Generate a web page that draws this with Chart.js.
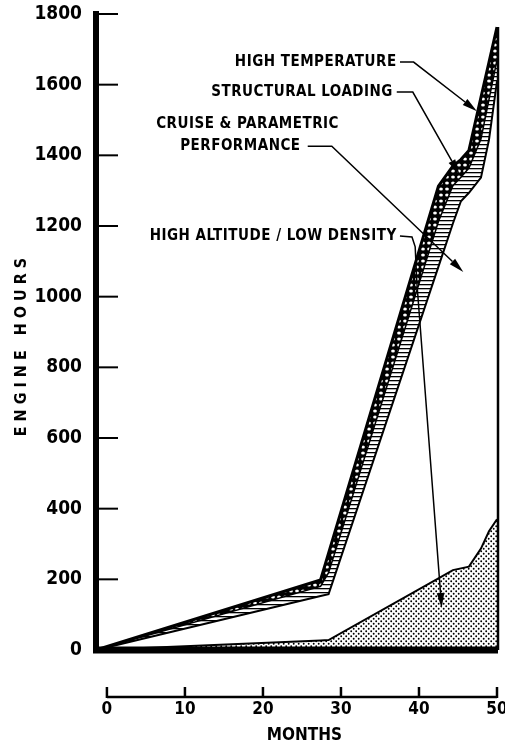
<!DOCTYPE html>
<html>
<head>
<meta charset="utf-8">
<script src="https://cdn.jsdelivr.net/npm/chart.js@4.4.0/dist/chart.umd.min.js"></script>
<style>
  html, body { margin: 0; padding: 0; background: #fff; }
</style>
</head>
<body>
<canvas id="engineChart" width="505" height="750"></canvas>
<script>
const months = [0, 28, 29, 42.7, 44.5, 45.5, 46.5, 48, 49, 50];

// engine hours per test category (stacked, bottom to top)
const highAltitude = [0, 27, 28, 203, 226, 231, 236, 287, 336, 370];
const cruise       = [0, 126, 130, 882, 981, 1039, 1058, 1050, 1108, 1240];
const structural   = [0, 27, 61, 128, 107, 68, 70, 109, 114, 60];
const highTemp     = [0, 18, 55, 100, 56, 50, 50, 118, 105, 93];

const categories = [
  "HIGH ALTITUDE / LOW DENSITY",
  "CRUISE & PARAMETRIC PERFORMANCE",
  "STRUCTURAL LOADING",
  "HIGH TEMPERATURE"
];

const yTicks = [0, 200, 400, 600, 800, 1000, 1200, 1400, 1600, 1800];
const xTicks = [0, 10, 20, 30, 40, 50];

const FAMILY = '"DejaVu Sans Condensed", "Liberation Sans Narrow", sans-serif';
const NARROW = '"Liberation Sans Narrow", "DejaVu Sans Condensed", sans-serif';

/* ---------- fill patterns ---------- */

function makePattern(w, h, draw) {
  const c = document.createElement("canvas");
  c.width = w;
  c.height = h;
  const g = c.getContext("2d");
  draw(g, w, h);
  return g.createPattern(c, "repeat");
}

const dots = makePattern(5, 5, g => {
  g.fillStyle = "#fff";
  g.fillRect(0, 0, 5, 5);
  g.fillStyle = "#000";
  g.beginPath();
  g.arc(1.2, 1.2, 0.95, 0, Math.PI * 2);
  g.arc(3.7, 3.7, 0.95, 0, Math.PI * 2);
  g.fill();
});

const hatch = makePattern(4, 4, g => {
  g.fillStyle = "#fff";
  g.fillRect(0, 0, 4, 4);
  g.fillStyle = "#000";
  g.fillRect(0, 0, 4, 1.3);
});

const chain = makePattern(6, 6, g => {
  g.fillStyle = "#000";
  g.fillRect(0, 0, 6, 6);
  g.fillStyle = "#fff";
  g.beginPath();
  g.ellipse(3, 3, 1.9, 1.5, 0, 0, Math.PI * 2);
  g.fill();
});

const toPoints = values => values.map((v, i) => ({ x: months[i], y: v }));

/* ---------- callout labels with leader lines (month, hours) ---------- */

const callouts = [
  { lines: ["HIGH TEMPERATURE"], at: [[27.4, 1664]],
    leader: [[37.9, 1664], [39.6, 1664], [47.5, 1525]] },
  { lines: ["STRUCTURAL LOADING"], at: [[25.7, 1579]],
    leader: [[37.5, 1579], [39.5, 1579], [45.3, 1347]] },
  { lines: ["CRUISE & PARAMETRIC", "PERFORMANCE"], at: [[18.9, 1489], [18.0, 1426]],
    leader: [[26.4, 1426], [29.4, 1426], [45.8, 1070]] },
  { lines: ["HIGH ALTITUDE / LOW DENSITY"], at: [[22.1, 1172]],
    leader: [[37.9, 1172], [39.4, 1169], [39.8, 1141], [40.0, 1042], [43.1, 119]] }
];

function arrowTo(ctx, pts) {
  const n = pts.length;
  const [tx, ty] = pts[n - 1];
  const [px, py] = pts[n - 2];
  const ang = Math.atan2(ty - py, tx - px);
  const len = 15, half = 3.8;
  const bx = tx - Math.cos(ang) * len;
  const by = ty - Math.sin(ang) * len;

  ctx.beginPath();
  ctx.moveTo(pts[0][0], pts[0][1]);
  for (let i = 1; i < n - 1; i++) ctx.lineTo(pts[i][0], pts[i][1]);
  ctx.lineTo(bx, by);
  ctx.stroke();

  ctx.beginPath();
  ctx.moveTo(tx, ty);
  ctx.lineTo(bx + Math.sin(ang) * half, by - Math.cos(ang) * half);
  ctx.lineTo(bx - Math.sin(ang) * half, by + Math.cos(ang) * half);
  ctx.closePath();
  ctx.fill();
}

const drawExtras = {
  id: "drawExtras",
  afterDatasetsDraw(chart) {
    const { ctx, chartArea } = chart;
    const x = chart.scales.x;
    const x2 = chart.scales.x2;
    const y = chart.scales.y;

    ctx.save();
    ctx.strokeStyle = "#000";
    ctx.fillStyle = "#000";

    // thick base line
    ctx.lineWidth = 7;
    ctx.beginPath();
    ctx.moveTo(chartArea.left - 3, y.getPixelForValue(0));
    ctx.lineTo(x.getPixelForValue(50) + 1, y.getPixelForValue(0));
    ctx.stroke();

    // right edge of the stack
    const top = chart.getDatasetMeta(3).data;
    ctx.lineWidth = 2.5;
    ctx.beginPath();
    ctx.moveTo(x.getPixelForValue(50) + 1, top[top.length - 1].y);
    ctx.lineTo(x.getPixelForValue(50) + 1, y.getPixelForValue(0));
    ctx.stroke();

    // inward y ticks
    ctx.lineWidth = 2;
    yTicks.filter(v => v > 0).forEach(v => {
      const py = y.getPixelForValue(v);
      ctx.beginPath();
      ctx.moveTo(chartArea.left, py);
      ctx.lineTo(chartArea.left + 22, py);
      ctx.stroke();
    });

    // detached months axis
    const ay = chartArea.bottom + 47;
    ctx.lineWidth = 2.5;
    ctx.beginPath();
    ctx.moveTo(x2.getPixelForValue(0), ay);
    ctx.lineTo(x2.getPixelForValue(50), ay);
    ctx.stroke();
    xTicks.forEach(v => {
      const px = x2.getPixelForValue(v);
      ctx.beginPath();
      ctx.moveTo(px, ay + 1);
      ctx.lineTo(px, ay - 10);
      ctx.stroke();
    });

    // callouts
    ctx.font = "bold 15px " + FAMILY;
    ctx.letterSpacing = "0.5px";
    ctx.textAlign = "center";
    ctx.textBaseline = "middle";
    callouts.forEach(c => {
      c.lines.forEach((t, i) => {
        ctx.fillText(t, x.getPixelForValue(c.at[i][0]), y.getPixelForValue(c.at[i][1]));
      });
      ctx.lineWidth = 1.5;
      arrowTo(ctx, c.leader.map(p => [x.getPixelForValue(p[0]), y.getPixelForValue(p[1])]));
    });
    ctx.letterSpacing = "0px";
    ctx.restore();
  }
};

new Chart(document.getElementById("engineChart"), {
  type: "line",
  data: {
    datasets: [
      { label: categories[0], data: toPoints(highAltitude), backgroundColor: dots, borderWidth: 2, fill: "origin" },
      { label: categories[1], data: toPoints(cruise), backgroundColor: "#fff", borderWidth: 2, fill: "-1" },
      { label: categories[2], data: toPoints(structural), backgroundColor: hatch, borderWidth: 1.5, fill: "-1" },
      { label: categories[3], data: toPoints(highTemp), backgroundColor: chain, borderWidth: 3, fill: "-1" }
    ]
  },
  options: {
    responsive: false,
    animation: false,
    devicePixelRatio: 1,
    layout: { padding: { left: 12, right: 8, top: 14, bottom: 4 } },
    datasets: { line: { borderColor: "#000", clip: 6, pointRadius: 0, tension: 0 } },
    plugins: { legend: { display: false }, tooltip: { enabled: false } },
    scales: {
      x: { type: "linear", min: 0, max: 50, display: false },
      x2: {
        type: "linear",
        position: "bottom",
        min: -1.4,
        max: 50,
        afterBuildTicks: s => { s.ticks = xTicks.map(v => ({ value: v })); },
        afterFit: s => { s.height = 96; s.paddingLeft = 0; s.paddingRight = 0; },
        grid: { display: false, drawTicks: false },
        border: { display: false },
        ticks: { color: "#000", padding: 49, maxRotation: 0, callback: v => String(v), font: { family: NARROW, size: 17, weight: "bold" } },
        title: { display: true, text: "   MONTHS", color: "#000", padding: { top: 4, bottom: 0 }, font: { family: NARROW, size: 17, weight: "bold" } }
      },
      y: {
        stacked: true,
        min: 0,
        max: 1800,
        afterBuildTicks: s => { s.ticks = yTicks.map(v => ({ value: v })); },
        afterFit: s => { s.width = 84; s.paddingTop = 0; s.paddingBottom = 0; },
        grid: { display: false, drawTicks: false },
        border: { display: true, width: 6, color: "#000" },
        ticks: { color: "#000", padding: 14, callback: v => String(v), font: { family: NARROW, size: 19, weight: "bold" } },
        title: { display: true, text: "E N G I N E   H O U R S      ", color: "#000", padding: 0, font: { family: FAMILY, size: 16, weight: "bold" } }
      }
    }
  },
  plugins: [drawExtras]
});
</script>
</body>
</html>
